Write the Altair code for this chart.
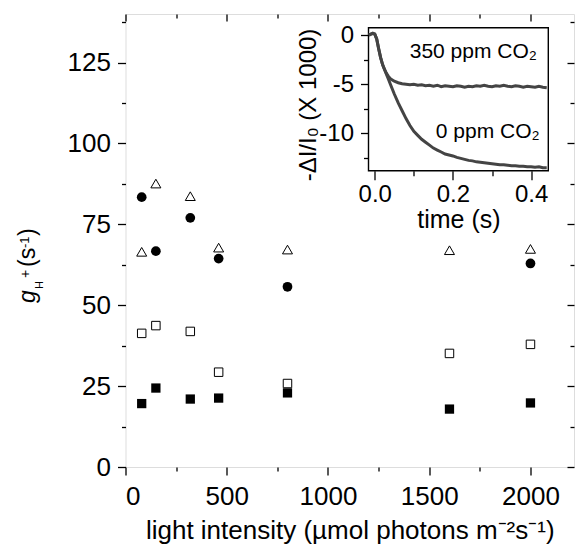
import altair as alt
import pandas as pd

# ---------------- main panel data ----------------
light = [80, 150, 320, 460, 800, 1600, 2000]
filled_circles = [83.4, 66.7, 77.0, 64.4, 55.7, None, 62.9]
open_triangles = [66.5, 87.6, 83.7, 67.8, 67.2, 67.0, 67.4]
open_squares = [41.3, 43.7, 41.9, 29.3, 25.8, 35.1, 37.9]
filled_squares = [19.6, 24.4, 21.0, 21.3, 22.9, 17.9, 19.8]

x_major = [0, 500, 1000, 1500, 2000]
x_minor = [250, 750, 1250, 1750]
y_major = [0, 25, 50, 75, 100, 125]
y_minor = [12.5, 37.5, 62.5, 87.5, 112.5, 137.5]

# ---------------- inset data ----------------
time_s = [-0.015, -0.01, -0.005, 0.0, 0.005, 0.01, 0.015, 0.02, 0.025, 0.03,
          0.035, 0.04, 0.05, 0.06, 0.07, 0.08, 0.09, 0.10, 0.11, 0.12,
          0.13, 0.14, 0.15, 0.16, 0.17, 0.18, 0.19, 0.20, 0.21, 0.22,
          0.23, 0.24, 0.25, 0.26, 0.27, 0.28, 0.29, 0.30, 0.31, 0.32,
          0.33, 0.34, 0.35, 0.36, 0.37, 0.38, 0.39, 0.40, 0.41, 0.42,
          0.43, 0.44]
signal_350 = [0.0, 0.1, 0.2, 0.1, -0.4, -1.4, -2.3, -3.0, -3.5, -3.9,
              -4.2, -4.45, -4.7, -4.85, -4.95, -5.0, -5.05, -5.0, -5.1, -5.05,
              -5.15, -5.1, -5.2, -5.1, -5.25, -5.15, -5.2, -5.25, -5.15, -5.2,
              -5.3, -5.2, -5.25, -5.15, -5.2, -5.1, -5.2, -5.25, -5.15, -5.2,
              -5.1, -5.2, -5.25, -5.15, -5.2, -5.3, -5.2, -5.25, -5.3, -5.2,
              -5.3, -5.35]
signal_0 = [0.0, 0.1, 0.15, 0.1, -0.4, -1.4, -2.3, -3.0, -3.5, -4.0,
            -4.5, -5.0, -6.0, -6.9, -7.7, -8.5, -9.2, -9.8, -10.2, -10.6,
            -10.9, -11.2, -11.5, -11.7, -11.9, -12.1, -12.2, -12.3, -12.45, -12.55,
            -12.65, -12.75, -12.8, -12.9, -12.95, -13.0, -13.05, -13.1, -13.15, -13.2,
            -13.2, -13.25, -13.3, -13.3, -13.35, -13.35, -13.4, -13.4, -13.45, -13.4,
            -13.5, -13.5]
t_major = [0.0, 0.2, 0.4]
t_minor = [0.1, 0.3]
s_major = [0, -5, -10]
s_minor = [-2.5, -7.5, -12.5]

FONT = "Liberation Sans"
W, H = 448.5, 453

main_x = alt.Scale(domain=[0, 2215], nice=False, zero=False)
main_y = alt.Scale(domain=[0, 140], nice=False, zero=False)
in_x = alt.Scale(domain=[-0.016, 0.444], range=[243, 422.8], nice=False, zero=False)
in_y = alt.Scale(domain=[-13.8, 0.75], range=[156.7, 13.7], nice=False, zero=False)

def series(vals):
    df = pd.DataFrame({"light": light, "g": vals})
    return df.dropna()

xa = dict(labelFont=FONT, labelColor="black", tickColor="black",
          tickWidth=1.3, domain=False, grid=False, titleFont=FONT, titleColor="black",
          titleFontWeight="normal")

X_main = alt.X("light:Q", scale=main_x,
               axis=alt.Axis(orient="bottom", values=x_major, tickSize=8, labelPadding=8,
                             format="d", labelFontSize=26,
                             title="light intensity (µmol photons m⁻²s⁻¹)", titleFontSize=26,
                             titleY=71, titleBaseline="alphabetic", **xa))
Y_main = alt.Y("g:Q", scale=main_y,
               axis=alt.Axis(orient="left", values=y_major, tickSize=8, labelPadding=7,
                             format="d", labelFontSize=26, title=None, **xa))

fsq = alt.Chart(series(filled_squares)).mark_point(shape="square", filled=True, color="black",
                                                 size=86, opacity=1).encode(x=X_main, y=Y_main)
osq = alt.Chart(series(open_squares)).mark_point(shape="square", filled=True, fill="white",
                                               stroke="black", strokeWidth=1, size=72,
                                               opacity=1).encode(x=X_main, y=Y_main)
fci = alt.Chart(series(filled_circles)).mark_point(shape="circle", filled=True, color="black",
                                                 size=95, opacity=1).encode(x=X_main, y=Y_main)
otr = alt.Chart(series(open_triangles)).mark_point(shape="triangle-up", filled=True, fill="white",
                                                 stroke="black", strokeWidth=1, size=100,
                                                 opacity=1).encode(x=X_main, y=Y_main)

one = pd.DataFrame({"a": [0]})

def lbl(text, x, y, size=23, style="normal"):
    return alt.Chart(one).mark_text(text=text, font=FONT, fontSize=size, fontStyle=style,
                                    angle=270, align="left", baseline="alphabetic",
                                    color="black").encode(x=alt.value(x), y=alt.value(y))

ytitle = [
    lbl("g", -90.5, 289, 23, "italic"),
    lbl("H", -82.5, 275, 11),
    lbl("+", -95.5, 264, 14),
    lbl("(s", -90.5, 253, 23),
    lbl("-1", -97, 234, 13),
    lbl(")", -90.5, 222, 23),
]

main_layer = alt.layer(fsq, osq, fci, otr, *ytitle)

# minor ticks (outward) of main panel
dummy = pd.DataFrame({"light": [0], "g": [0]})
minor_bl = alt.Chart(dummy).mark_point(opacity=0).encode(
    x=alt.X("light:Q", scale=main_x,
            axis=alt.Axis(orient="bottom", values=x_minor, tickSize=4, labels=False,
                          title=None, **xa)),
    y=alt.Y("g:Q", scale=main_y,
            axis=alt.Axis(orient="left", values=y_minor, tickSize=4, labels=False,
                          title=None, **xa)))
# inward ticks on top / right edges
major_tr = alt.Chart(dummy).mark_point(opacity=0).encode(
    x=alt.X("light:Q", scale=main_x,
            axis=alt.Axis(orient="bottom", offset=-H, values=x_major, tickSize=7,
                          labels=False, title=None, **xa)),
    y=alt.Y("g:Q", scale=main_y,
            axis=alt.Axis(orient="left", offset=-W, values=y_major, tickSize=7,
                          labels=False, title=None, **xa)))
minor_tr = alt.Chart(dummy).mark_point(opacity=0).encode(
    x=alt.X("light:Q", scale=main_x,
            axis=alt.Axis(orient="bottom", offset=-H, values=x_minor, tickSize=4,
                          labels=False, title=None, **xa)),
    y=alt.Y("g:Q", scale=main_y,
            axis=alt.Axis(orient="left", offset=-W, values=y_minor, tickSize=4,
                          labels=False, title=None, **xa)))

# ---------------- inset ----------------
ins = pd.DataFrame({
    "t": time_s * 2,
    "v": signal_350 + signal_0,
    "c": ["350"] * len(time_s) + ["0"] * len(time_s),
})
IN_BOTTOM = 156.7
X_in = alt.X("t:Q", scale=in_x,
             axis=alt.Axis(orient="bottom", offset=IN_BOTTOM - H, values=t_major, tickSize=9,
                           labelPadding=3, format=".1f", title="time (s)", titleFontSize=25,
                           titleY=57, titleBaseline="alphabetic", labelFontSize=24, **xa))
Y_in = alt.Y("v:Q", scale=in_y,
             axis=alt.Axis(orient="left", offset=-243, values=s_major, tickSize=8,
                           labelPadding=7, labelExpr="replace(datum.label, '−', '-')",
                           title="-ΔI/I₀ (X 1000)", titleFontSize=24,
                           titleAngle=270, titleX=-53, titleY=90.5, titleAlign="center",
                           titleBaseline="alphabetic", labelFontSize=24, **xa))

frame_df = pd.DataFrame({"t": [-0.016], "t2": [0.444], "v": [0.75], "v2": [-13.8]})
in_frame = alt.Chart(frame_df).mark_rect(fill="white", stroke="black", strokeWidth=1.4).encode(
    x=X_in, x2="t2:Q", y=Y_in, y2="v2:Q")
in_lines = alt.Chart(ins).mark_line(color="#444444", strokeWidth=3).encode(
    x=X_in, y=Y_in, detail="c:N")
txt_df = pd.DataFrame({"t": [0.415, 0.422], "v": [-2.34, -10.47],
                       "label": ["350 ppm CO₂", "0 ppm CO₂"]})
in_text = alt.Chart(txt_df).mark_text(font=FONT, fontSize=21, align="right",
                                      baseline="alphabetic", color="black").encode(
    x=X_in, y=Y_in, text="label:N")
inset_layer = alt.layer(in_frame, in_lines, in_text)

inset_minor = alt.Chart(pd.DataFrame({"t": [0.0], "v": [0.0]})).mark_point(opacity=0).encode(
    x=alt.X("t:Q", scale=in_x,
            axis=alt.Axis(orient="bottom", offset=IN_BOTTOM - H, values=t_minor, tickSize=5,
                          labels=False, title=None, **xa)),
    y=alt.Y("v:Q", scale=in_y,
            axis=alt.Axis(orient="left", offset=-243, values=s_minor, tickSize=5,
                          labels=False, title=None, **xa)))

chart = alt.layer(main_layer, minor_bl, major_tr, minor_tr, inset_layer, inset_minor).resolve_scale(
    x="independent", y="independent"
).properties(
    width=W, height=H,
    autosize=alt.AutoSizeParams(type="none"),
    padding={"left": 117.5, "top": 6, "right": 1, "bottom": 77},
).configure_view(stroke="black", strokeWidth=1.5).configure(background="white")

chart.save("out.html", embed_options={"renderer": "svg", "actions": False})
